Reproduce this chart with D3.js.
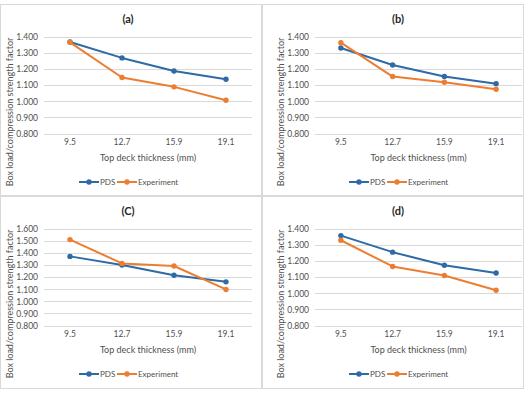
<!DOCTYPE html>
<meta charset="utf-8">
<style>
body { margin: 0; background: #fff; }
text { font-family: Lato, "Open Sans", sans-serif; fill: #505050; }
.grid line { stroke: #d9d9d9; stroke-width: 1; }
</style>
<svg width="525" height="393"></svg>
<script src="https://d3js.org/d3.v7.min.js"></script>
<script>

var thickness = ["9.5", "12.7", "15.9", "19.1"];
var titles = ["(a)", "(b)", "(C)", "(d)"];
var seriesNames = ["PDS", "Experiment"];

var pdsA = [1.369, 1.270, 1.189, 1.137];
var expA = [1.367, 1.148, 1.090, 1.007];
var pdsB = [1.332, 1.226, 1.154, 1.110];
var expB = [1.365, 1.154, 1.119, 1.075];
var pdsC = [1.373, 1.301, 1.216, 1.162];
var expC = [1.512, 1.315, 1.293, 1.099];
var pdsD = [1.359, 1.256, 1.175, 1.126];
var expD = [1.330, 1.167, 1.111, 1.019];

var yTicksAB = [0.8, 0.9, 1.0, 1.1, 1.2, 1.3, 1.4];
var yTicksC = [0.8, 0.9, 1.0, 1.1, 1.2, 1.3, 1.4, 1.5, 1.6];

var colors = ["#2e6aa6", "#ed7d31"];

var svg = d3.select("svg");

// panel frames, left column shifted a bit compared to the right one
var panels = [
  {x: 0,   y: 4,   w: 262, h: 192, title: titles[0], pds: pdsA, exp: expA, ticks: yTicksAB, left: 44, right: 252, mid: 128, ytitle: 10},
  {x: 262, y: 4,   w: 262, h: 192, title: titles[1], pds: pdsB, exp: expB, ticks: yTicksAB, left: 53, right: 260, mid: 136, ytitle: 19},
  {x: 0,   y: 196, w: 262, h: 193, title: titles[2], pds: pdsC, exp: expC, ticks: yTicksC,  left: 44, right: 252, mid: 128, ytitle: 10},
  {x: 262, y: 196, w: 262, h: 193, title: titles[3], pds: pdsD, exp: expD, ticks: yTicksAB, left: 53, right: 260, mid: 136, ytitle: 19}
];

panels.forEach(function(p) {
  var g = svg.append("g").attr("transform", "translate(" + p.x + "," + p.y + ")");

  g.append("rect")
    .attr("x", 0.5).attr("y", 0.5)
    .attr("width", p.w - 1).attr("height", p.h - 1)
    .attr("fill", "none")
    .attr("stroke", "#d9d9d9");

  var x = d3.scaleBand().domain(thickness).range([p.left, p.right]);
  var y = d3.scaleLinear()
    .domain([d3.min(p.ticks), d3.max(p.ticks)])
    .range([129.5, 33]);

  // gridlines
  g.append("g").attr("class", "grid")
    .selectAll("line")
    .data(p.ticks)
    .enter().append("line")
      .attr("x1", p.left).attr("x2", p.right)
      .attr("y1", function(d) { return Math.round(y(d)) + 0.5; })
      .attr("y2", function(d) { return Math.round(y(d)) + 0.5; });

  // y axis labels
  var yAxis = d3.axisLeft(y).tickValues(p.ticks).tickFormat(d3.format(".3f")).tickSize(0).tickPadding(6);
  var ya = g.append("g").attr("transform", "translate(" + p.left + ",0)").call(yAxis);
  ya.select(".domain").remove();
  ya.selectAll("text").style("font-size", "8.5px").attr("fill", "#505050");

  // x axis labels
  var xAxis = d3.axisBottom(x).tickSize(0).tickPadding(0);
  var xa = g.append("g").attr("transform", "translate(0,135)").call(xAxis);
  xa.select(".domain").remove();
  xa.selectAll("text").style("font-size", "8.5px").attr("fill", "#505050");

  g.append("text")
    .attr("x", p.mid).attr("y", 15)
    .attr("text-anchor", "middle").attr("dy", "0.35em")
    .style("font-size", "11px").style("font-weight", "bold")
    .style("fill", "#262626")
    .text(p.title);

  g.append("text")
    .attr("x", (p.left + p.right) / 2).attr("y", 154)
    .attr("text-anchor", "middle").attr("dy", "0.35em")
    .style("font-size", "9px")
    .text("Top deck thickness (mm)");

  g.append("text")
    .attr("transform", "translate(" + p.ytitle + ",108) rotate(-90)")
    .attr("text-anchor", "middle").attr("dy", "0.35em")
    .style("font-size", "9px")
    .text("Box load/compression strength factor");

  var line = d3.line()
    .x(function(d, i) { return x(thickness[i]) + x.bandwidth() / 2; })
    .y(function(d) { return y(d); });

  [p.pds, p.exp].forEach(function(vals, k) {
    g.append("path")
      .datum(vals)
      .attr("d", line)
      .attr("fill", "none")
      .attr("stroke", colors[k])
      .attr("stroke-width", 2)
      .attr("stroke-linejoin", "round");
    g.selectAll(null)
      .data(vals)
      .enter().append("circle")
        .attr("cx", function(d, i) { return x(thickness[i]) + x.bandwidth() / 2; })
        .attr("cy", function(d) { return y(d); })
        .attr("r", 2.7)
        .attr("fill", colors[k]);
  });

  // legend
  var lg = g.append("g").attr("transform", "translate(" + (p.mid - 49) + ",178)");
  var offs = [0, 38];
  seriesNames.forEach(function(name, k) {
    var item = lg.append("g").attr("transform", "translate(" + offs[k] + ",0)");
    item.append("line")
      .attr("x1", 0).attr("x2", 20).attr("y1", 0).attr("y2", 0)
      .attr("stroke", colors[k]).attr("stroke-width", 2);
    item.append("circle").attr("cx", 10).attr("cy", 0).attr("r", 2.7).attr("fill", colors[k]);
    item.append("text")
      .attr("x", 21).attr("y", 0).attr("dy", "0.35em")
      .style("font-size", "8px")
      .text(name);
  });
});

</script>
